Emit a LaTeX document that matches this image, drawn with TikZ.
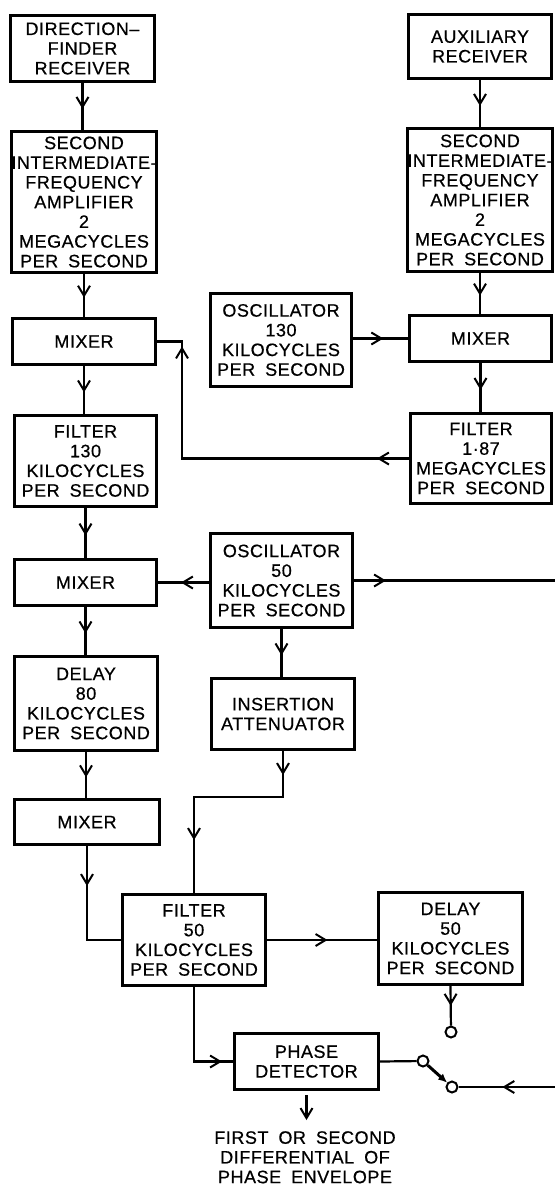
\documentclass[tikz,border=0pt]{standalone}
\usepackage{fontspec}
\setmainfont{Liberation Sans}[LetterSpace=3,WordSpace=1.8,FakeBold=0.6]
\usetikzlibrary{arrows.meta,decorations.markings}
\tikzset{
  every node/.style={font=\fontsize{18}{19.7}\selectfont},
  box/.style={draw, line width=2.6pt, minimum width=143.4pt, inner sep=0pt, align=center},
  conn/.style={line width=2.2pt},
  chevtip/.tip={Straight Barb[length=10pt,width=12pt,line width=2pt]},
  chev/.style={postaction={decorate,decoration={markings,
      mark=at position #1 with {\arrow{chevtip}}}}},
  sw/.style={draw, circle, line width=2pt, fill=white, minimum size=11pt, inner sep=0pt}
}
\begin{document}
\begin{tikzpicture}[x=1pt,y=-1pt]
\useasboundingbox (0,0) rectangle (554,1185);
% left column
\node[box, minimum width=144.4pt, minimum height=66.4pt] (df) at (82.5,48.5) {DIRECTION–\\FINDER\\RECEIVER};
\node[box, minimum width=141.4pt, minimum height=141.4pt] (sif1) at (84,202) {SECOND\\INTERMEDIATE-\\FREQUENCY\\AMPLIFIER\\2\\MEGACYCLES\\PER SECOND};
\node[box, minimum height=46.4pt] (mix1) at (84,341.5) {MIXER};
\node[box, minimum width=142.4pt, minimum height=91.4pt] (fil130) at (85.5,461) {FILTER\\130\\KILOCYCLES\\PER SECOND};
\node[box, minimum width=142.4pt, minimum height=46.4pt] (mix2) at (85.5,582.5) {MIXER};
\node[box, minimum height=94.4pt] (del80) at (86,703.5) {DELAY\\80\\KILOCYCLES\\PER SECOND};
\node[box, minimum width=145.4pt, minimum height=45.4pt] (mix3) at (87,822) {MIXER};
% right column
\node[box, minimum height=64.4pt] (aux) at (480,46.5) {AUXILIARY\\RECEIVER};
\node[box, minimum height=143.4pt] (sif2) at (480,200) {SECOND\\INTERMEDIATE-\\FREQUENCY\\AMPLIFIER\\2\\MEGACYCLES\\PER SECOND};
\node[box, minimum width=142.4pt, minimum height=46.4pt] (mixR) at (480.5,338.5) {MIXER};
\node[box, minimum width=141.4pt, minimum height=90.4pt] (fil187) at (481,458.5) {FILTER\\1·87\\MEGACYCLES\\PER SECOND};
% middle
\node[box, minimum width=141.4pt, minimum height=93.4pt] (osc130) at (281,340) {OSCILLATOR\\130\\KILOCYCLES\\PER SECOND};
\node[box, minimum width=142.4pt, minimum height=94.4pt] (osc50) at (281.5,580.5) {OSCILLATOR\\50\\KILOCYCLES\\PER SECOND};
\node[box, minimum height=71.4pt] (ins) at (283,714) {INSERTION\\ATTENUATOR};
\node[box, minimum height=91.4pt] (fil50) at (194,940) {FILTER\\50\\KILOCYCLES\\PER SECOND};
\node[box, minimum width=144.4pt, minimum height=92.4pt] (del50) at (450.5,938.5) {DELAY\\50\\KILOCYCLES\\PER SECOND};
\node[box, minimum width=144.4pt, minimum height=56.4pt] (pd) at (306.5,1061.5) {PHASE\\DETECTOR};
\node[align=center, inner sep=0pt, anchor=north] (out) at (305,1131) {FIRST OR SECOND\\DIFFERENTIAL OF\\PHASE ENVELOPE};
% switch contacts and free ends
\node[sw] (s0) at (451,1032) {};
\node[sw] (s1) at (423,1061) {};
\node[sw] (s2) at (452,1087) {};
\coordinate (fbx) at (182,459);
\coordinate (j1) at (283,797);
\coordinate (re1) at (556,580.5);
\coordinate (re2) at (556,1087);
% connectors
\draw[conn,chev=0.55] (df.south) -- (df.south |- sif1.north);
\draw[conn,chev=0.55] (sif1.south) -- (sif1.south |- mix1.north);
\draw[conn,chev=0.55] (aux.south) -- (aux.south |- sif2.north);
\draw[conn,chev=0.55] (sif2.south) -- (sif2.south |- mixR.north);
\draw[conn,chev=0.55] (mixR.west -| osc130.east) -- (mixR.west);
\draw[conn,chev=0.55] (mixR.south) -- (mixR.south |- fil187.north);
\draw[conn,chev=32pt,chev=-30pt] (fil187.west) -| (fbx |- mix1.east) -- (mix1.east);
\draw[conn,chev=0.55] (mix1.south) -- (mix1.south |- fil130.north);
\draw[conn,chev=0.55] (fil130.south) -- (fil130.south |- mix2.north);
\draw[conn,chev=0.55] (mix2.east -| osc50.west) -- (mix2.east);
\draw[conn,chev=32pt] (osc50.east) -- (re1);
\draw[conn,chev=0.55] (mix2.south) -- (mix2.south |- del80.north);
\draw[conn,chev=0.55] (del80.south) -- (del80.south |- mix3.north);
\draw[conn,chev=0.55] (osc50.south) -- (osc50.south |- ins.north);
\draw[conn,chev=24pt,chev=-53pt] (ins.south) -- (j1) -| (fil50.north);
\draw[conn,chev=40pt] (mix3.south) |- (fil50.west);
\draw[conn,chev=0.55] (fil50.east) -- (fil50.east -| del50.west);
\draw[conn,chev=-11pt] (fil50.south) |- (pd.west);
\draw[conn,chev=0.5] (del50.south) -- (s0);
\draw[conn] (pd.east) -- (s1);
\draw[line width=3pt,-{Latex[length=9pt,width=8pt]}] (s1) -- (s2);
\draw[conn,chev=0.55] (re2) -- (s2);
\draw[conn,-chevtip,shorten >=11pt] ([yshift=-4pt]pd.south) -- (pd.south |- out.north);
\end{tikzpicture}
\end{document}
